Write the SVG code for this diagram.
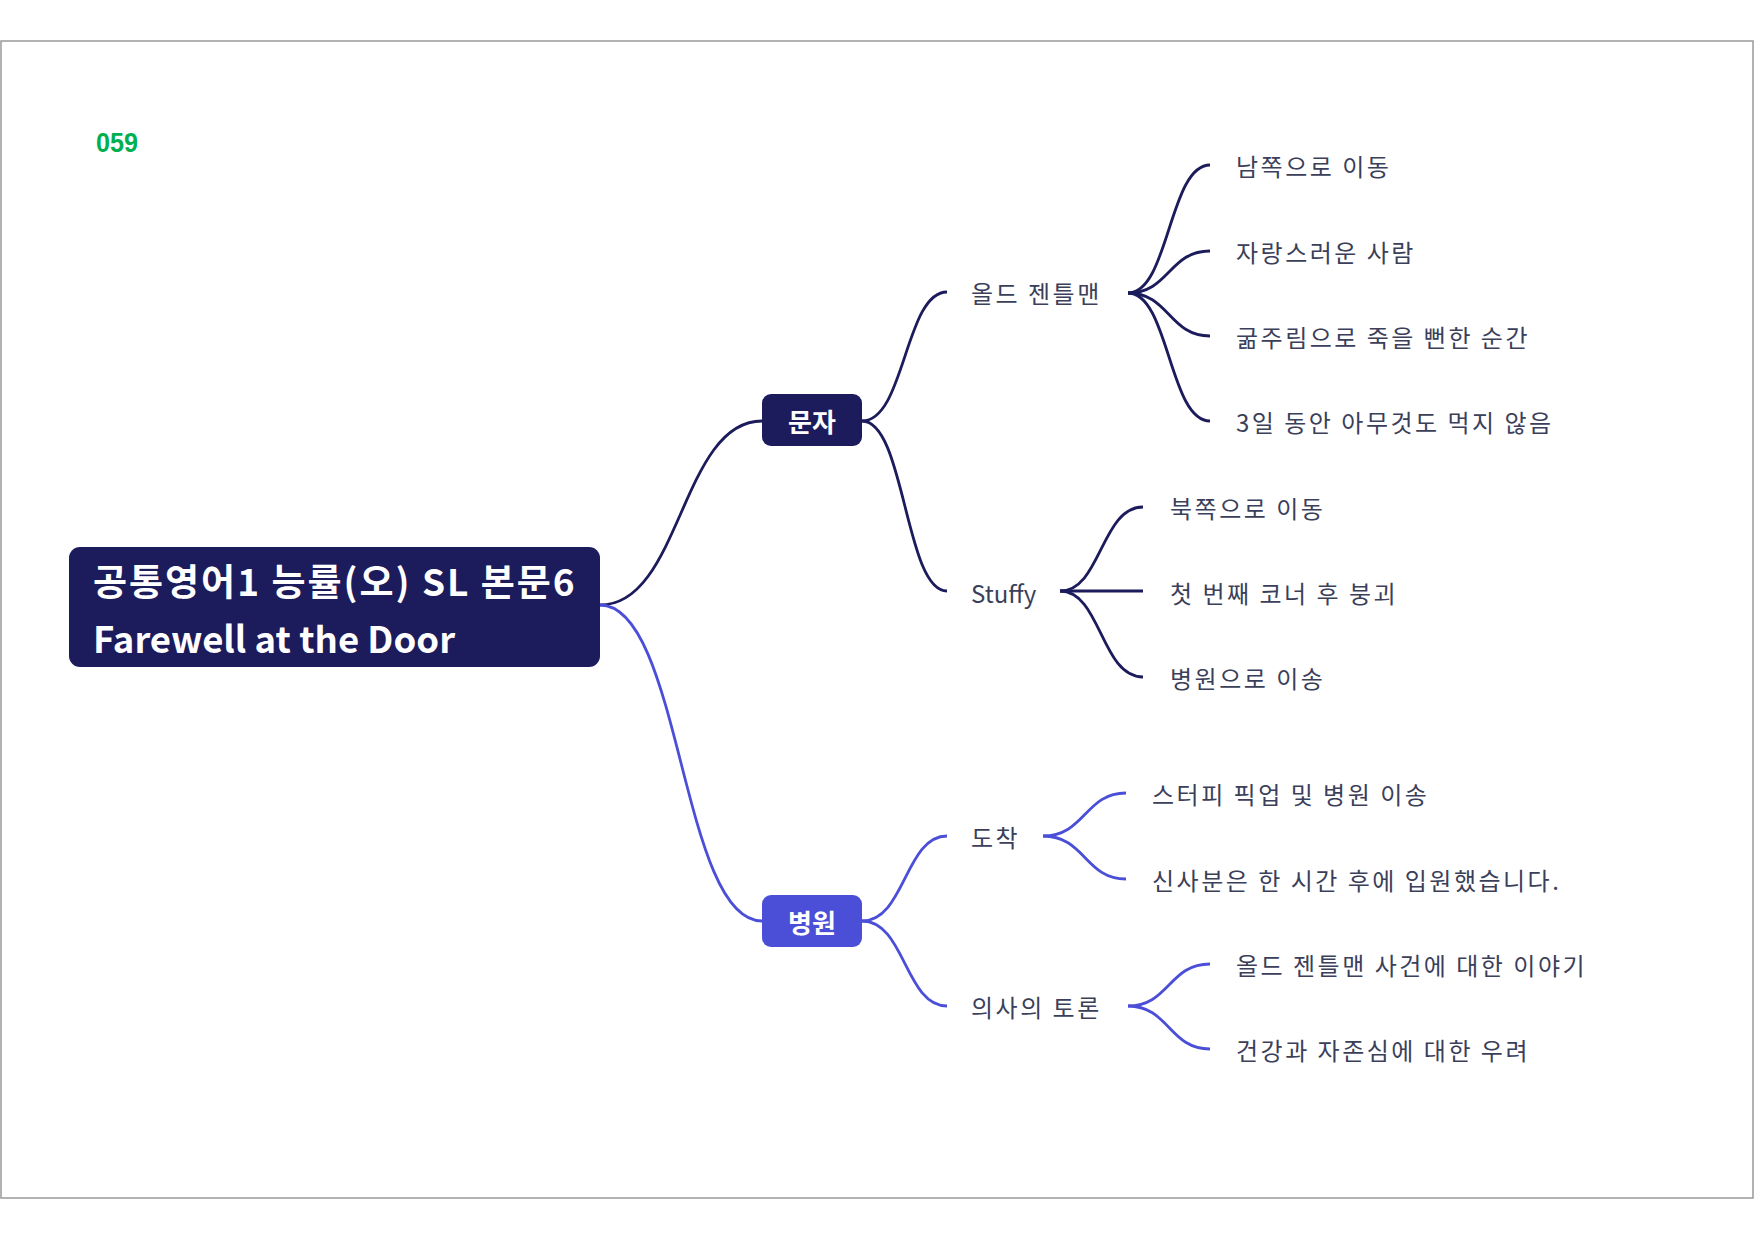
<svg xmlns="http://www.w3.org/2000/svg" width="1754" height="1240" viewBox="0 0 1754 1240">
<style>
.t{font-family:"Noto Sans CJK KR","Noto Sans",sans-serif;fill:#3b3f5a;font-size:24px;dominant-baseline:central;letter-spacing:2.5px}
.b{font-family:"Noto Sans CJK KR","Noto Sans",sans-serif;fill:#ffffff;font-weight:bold;dominant-baseline:central}
.c1{fill:none;stroke:#1c1b5c;stroke-width:2.8}
.c2{fill:none;stroke:#4b4fd8;stroke-width:2.8}
</style>
<rect x="0" y="0" width="1754" height="1240" fill="#ffffff"/>
<rect x="1" y="41" width="1752" height="1157" fill="none" stroke="#999999" stroke-width="1.5"/>
<text x="96" y="152" font-family="Liberation Sans,Arial,sans-serif" font-weight="bold" font-size="28" fill="#00b050" textLength="42" lengthAdjust="spacingAndGlyphs">059</text>
<g id="connectors">
<path class="c1" d="M600 605 C681 605 681 421 762 421"/>
<path class="c2" d="M600 605 C681 605 681 921 762 921"/>
<path class="c1" d="M862 421 C905 421 905 292 947 292"/>
<path class="c1" d="M862 421 C905 421 905 591 947 591"/>
<path class="c1" d="M1128 293 C1169 293 1169 165 1210 165"/>
<path class="c1" d="M1128 293 C1169 293 1169 251 1210 251"/>
<path class="c1" d="M1128 293 C1169 293 1169 336 1210 336"/>
<path class="c1" d="M1128 293 C1169 293 1169 421 1210 421"/>
<path class="c1" d="M1060 591 C1101 591 1101 507 1143 507"/>
<path class="c1" d="M1060 591 L1143 591"/>
<path class="c1" d="M1060 591 C1101 591 1101 677 1143 677"/>
<path class="c2" d="M862 921 C905 921 905 836 947 836"/>
<path class="c2" d="M862 921 C905 921 905 1006 947 1006"/>
<path class="c2" d="M1043 836 C1085 836 1085 793 1126 793"/>
<path class="c2" d="M1043 836 C1085 836 1085 879 1126 879"/>
<path class="c2" d="M1128 1006 C1169 1006 1169 964 1210 964"/>
<path class="c2" d="M1128 1006 C1169 1006 1169 1049 1210 1049"/>
</g>
<g id="root">
<rect x="69" y="547" width="531" height="120" rx="11" fill="#1c1b5c"/>
<text class="b" x="93" y="580" font-size="37" letter-spacing="2">공통영어1 능률(오) SL 본문6</text>
<text class="b" x="93" y="637" font-size="36.5">Farewell at the Door</text>
</g>
<g id="n-munja">
<rect x="762" y="394" width="100" height="52" rx="9" fill="#1c1b5c"/>
<text class="b" x="812" y="420" font-size="26" text-anchor="middle">문자</text>
</g>
<g id="n-byeongwon">
<rect x="762" y="895" width="100" height="52" rx="9" fill="#4b4fd8"/>
<text class="b" x="812" y="921" font-size="26" text-anchor="middle">병원</text>
</g>
<g id="n-old"><text class="t" x="971" y="292">올드 젠틀맨</text></g>
<g id="n-old1"><text class="t" x="1236" y="165">남쪽으로 이동</text></g>
<g id="n-old2"><text class="t" x="1236" y="251">자랑스러운 사람</text></g>
<g id="n-old3"><text class="t" x="1236" y="336">굶주림으로 죽을 뻔한 순간</text></g>
<g id="n-old4"><text class="t" x="1236" y="421">3일 동안 아무것도 먹지 않음</text></g>
<g id="n-stuffy"><text class="t" x="971" y="592" style="letter-spacing:0">Stuffy</text></g>
<g id="n-st1"><text class="t" x="1170" y="507">북쪽으로 이동</text></g>
<g id="n-st2"><text class="t" x="1170" y="592">첫 번째 코너 후 붕괴</text></g>
<g id="n-st3"><text class="t" x="1170" y="677">병원으로 이송</text></g>
<g id="n-arrive"><text class="t" x="971" y="836">도착</text></g>
<g id="n-ar1"><text class="t" x="1152" y="793">스터피 픽업 및 병원 이송</text></g>
<g id="n-ar2"><text class="t" x="1152" y="879">신사분은 한 시간 후에 입원했습니다.</text></g>
<g id="n-doctor"><text class="t" x="971" y="1006">의사의 토론</text></g>
<g id="n-dr1"><text class="t" x="1236" y="964">올드 젠틀맨 사건에 대한 이야기</text></g>
<g id="n-dr2"><text class="t" x="1236" y="1049">건강과 자존심에 대한 우려</text></g>
</svg>
